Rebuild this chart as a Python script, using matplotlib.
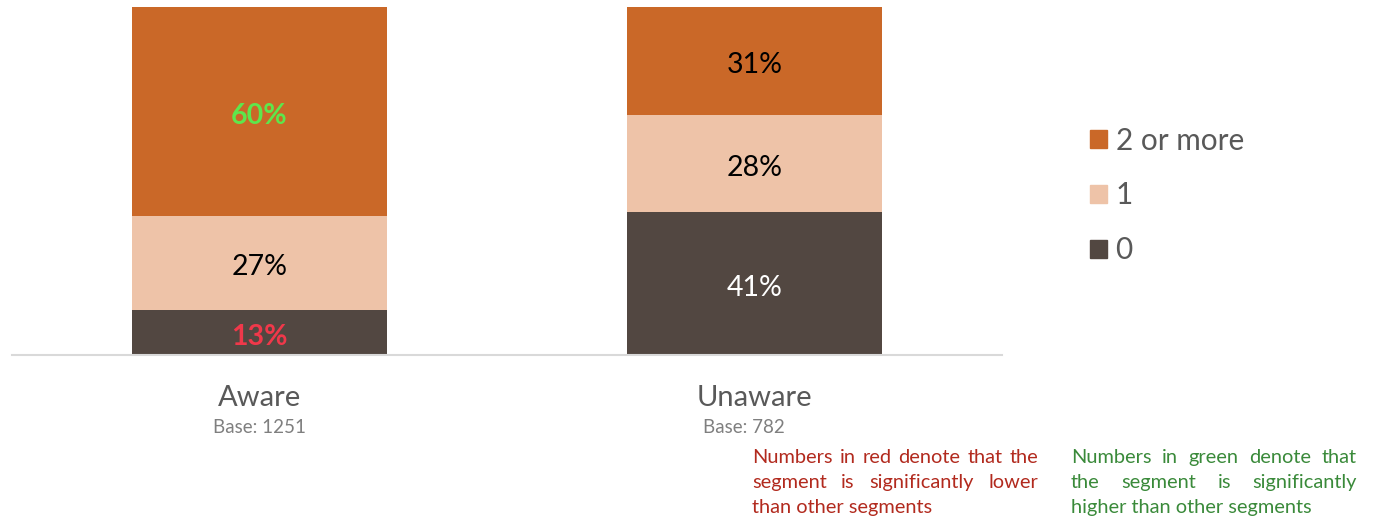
import matplotlib.pyplot as plt
from matplotlib.patches import Patch

plt.rcParams['font.family'] = ['Lato', 'DejaVu Sans']

grupos = ['Aware', 'Unaware']
bases = ['Base: 1251', 'Base: 782']
capas = ['0', '1', '2 or more']
valores = {
    '0': [13, 41],
    '1': [27, 28],
    '2 or more': [60, 31],
}
colores = {'0': '#524741', '1': '#EEC3A8', '2 or more': '#CA6828'}
# color de cada etiqueta (rojo = menor, verde = mayor)
color_txt = {
    '0': ['#F0384A', 'white'],
    '1': ['black', 'black'],
    '2 or more': ['#5EE64C', 'black'],
}
negrita = {
    '0': [True, False],
    '1': [False, False],
    '2 or more': [True, False],
}

fig = plt.figure(figsize=(13.74, 5.16), dpi=100)
ax = fig.add_axes([12/1374, 161/516, 990/1374, 348/516])

x = list(range(len(grupos)))
fondo = [0] * len(grupos)
for c in capas:
    ax.bar(x, valores[c], bottom=fondo, width=0.517, color=colores[c], zorder=2)
    for i in x:
        ax.text(i, fondo[i] + valores[c][i] / 2 - 1.3, f'{valores[c][i]}%', ha='center', va='center',
                fontsize=20.5, color=color_txt[c][i],
                fontweight='bold' if negrita[c][i] else 'normal')
    fondo = [a + b for a, b in zip(fondo, valores[c])]

ax.set_xlim(-0.5, 1.5)
ax.set_ylim(0, 100)
for s in ['top', 'right', 'left']:
    ax.spines[s].set_visible(False)
ax.spines['bottom'].set_color('#D9D9D9')
ax.spines['bottom'].set_linewidth(1.5)
ax.set_yticks([])
ax.set_xticks([])

desplaz = [0, -0.022]
for i, (g, b) in enumerate(zip(grupos, bases)):
    ax.text(i, -12.5, g, ha='center', va='center', fontsize=21, color='#595959')
    ax.text(i + desplaz[i], -20.7, b, ha='center', va='center', fontsize=13.5, color='#7F7F7F')

handles = [Patch(color=colores[c]) for c in reversed(capas)]
fig.legend(handles, list(reversed(capas)), loc='upper left', bbox_to_anchor=(1063/1374, 1 - 100/516),
           frameon=False, fontsize=21.4, labelcolor='#595959', handlelength=0.57, handleheight=0.57,
           handletextpad=0.3, labelspacing=0.9)


def justificado(lineas, x0, x1, y0, color, paso=25):
    # texto justificado: reparte las palabras entre x0 y x1 (la ultima linea va normal)
    r = fig.canvas.get_renderer()
    for k, linea in enumerate(lineas):
        y = 1 - (y0 + 6 + k * paso) / 516
        palabras = linea.split()
        if k == len(lineas) - 1 or len(palabras) == 1:
            fig.text(x0 / 1374, y, linea, fontsize=14.4, color=color, va='baseline')
            continue
        ts = [fig.text(0, y, p, fontsize=14.4, color=color, va='baseline') for p in palabras]
        anchos = [t.get_window_extent(r).width for t in ts]
        hueco = (x1 - x0 - sum(anchos)) / (len(palabras) - 1)
        pos = x0
        for t, w in zip(ts, anchos):
            t.set_x(pos / 1374)
            pos += w + hueco


justificado(['Numbers in red denote that the', 'segment is significantly lower', 'than other segments'],
            752, 1038, 457, '#B22A1E')
justificado(['Numbers in green denote that', 'the segment is significantly', 'higher than other segments'],
            1071, 1357, 457, '#3A8A3A')

fig.savefig('out.png', dpi=100)
